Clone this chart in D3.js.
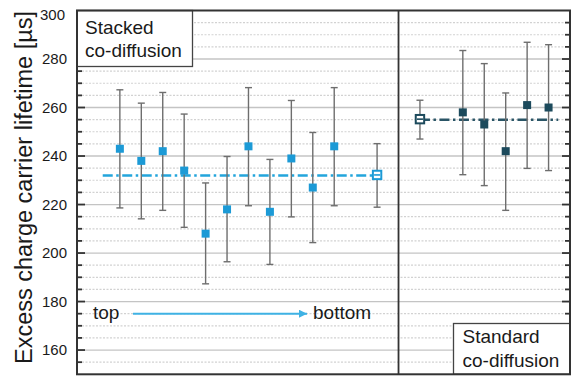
<!DOCTYPE html>
<html><head><meta charset="utf-8">
<script src="https://cdn.jsdelivr.net/npm/d3@7"></script>
<style>body{margin:0;background:#fff}svg{display:block}text{font-family:"Liberation Sans",Arial,sans-serif;fill:#1a1a1a}</style>
</head><body><svg id="c" width="573" height="377"></svg>
<script>
const yTicks = [160, 180, 200, 220, 240, 260, 280, 300];
const stackIdx = [1, 2, 3, 4, 5, 6, 7, 8, 9, 10, 11];
const stackVal = [243, 238, 242, 234, 208, 218, 244, 217, 239, 227, 244];
const stackHi  = [267.3, 261.8, 266.2, 257.3, 228.9, 239.8, 268.2, 238.6, 262.9, 249.7, 268.2];
const stackLo  = [218.6, 214.1, 217.6, 210.6, 187.3, 196.4, 219.5, 195.3, 214.9, 204.3, 219.5];
const stackAvg = {idx: 13, val: 232.2, hi: 245.1, lo: 218.9};
const stdIdx = [17, 18, 19, 20, 21];
const stdVal = [258, 253, 242, 261, 260];
const stdHi  = [283.5, 278.1, 266, 286.9, 285.9];
const stdLo  = [232.3, 227.8, 217.6, 234.9, 234];
const stdAvg = {idx: 15, val: 255.2, hi: 263, lo: 247};
const stackMean = 232, stdMean = 255;
const labels = {y: "Excess charge carrier lifetime [µs]", stacked: ["Stacked", "co-diffusion"], standard: ["Standard", "co-diffusion"], top: "top", bottom: "bottom"};

const L = 77, R = 570, T = 10.5, B = 374.3;
const x = d3.scaleLinear().domain([-1, 22]).range([L, R]);
const y = d3.scaleLinear().domain([150, 300]).range([B, T]);
const svg = d3.select("#c");
const cBlue = "#1c9ad6", cDark = "#1c4a5c", cGrid = "#c4c4c4", cAxis = "#333";

// minor grid
const minor = d3.range(155, 300, 5).filter(v => v % 20 !== 0);
svg.append("g").selectAll("line").data(minor).join("line")
  .attr("x1", L + 5).attr("x2", R - 5).attr("y1", d => y(d)).attr("y2", d => y(d))
  .attr("stroke", "#d2d2d2").attr("stroke-width", 1.2).attr("stroke-dasharray", "2,1.5");
// major grid
svg.append("g").selectAll("line").data(yTicks.filter(v => v < 300)).join("line")
  .attr("x1", L).attr("x2", R).attr("y1", d => y(d)).attr("y2", d => y(d))
  .attr("stroke", cGrid).attr("stroke-width", 1.3);

// left axis
const ax = svg.append("g").attr("transform", `translate(${L},0)`)
  .call(d3.axisLeft(y).tickValues(yTicks).tickSize(0).tickPadding(10).tickFormat(d3.format("d")));
ax.select(".domain").remove();
ax.selectAll("text").attr("font-size", 15).attr("fill", "#222").style("font-family", '"Liberation Sans",Arial,sans-serif');
ax.selectAll("text").filter(d => d === 300).attr("dy", "0.62em").attr("dx", "-2");
// tick marks inside (left and right)
const allTicks = d3.range(155, 300, 5);
[[L, 1], [R, -1]].forEach(([px, dir]) => {
  svg.append("g").selectAll("line").data(allTicks).join("line")
    .attr("x1", px).attr("x2", d => px + dir * (d % 20 === 0 ? 8 : 5))
    .attr("y1", d => y(d)).attr("y2", d => y(d))
    .attr("stroke", cAxis).attr("stroke-width", 1.8);
});

// legend boxes
function box(x0, y0, x1, y1, lines, tx, ty) {
  svg.append("rect").attr("x", x0).attr("y", y0).attr("width", x1 - x0).attr("height", y1 - y0)
    .attr("fill", "#fff").attr("stroke", "#444").attr("stroke-width", 1.3);
  lines.forEach((t, i) => svg.append("text").attr("x", tx).attr("y", ty + i * 23.5).attr("font-size", 19).text(t));
}
box(L, T, 192.5, 66.5, labels.stacked, 85, 33.5);
box(453.5, 323.5, R, B, labels.standard, 462.5, 343);

// frame & divider
svg.append("rect").attr("x", L).attr("y", T).attr("width", R - L).attr("height", B - T)
  .attr("fill", "none").attr("stroke", cAxis).attr("stroke-width", 2);
svg.append("line").attr("x1", x(14)).attr("x2", x(14)).attr("y1", T).attr("y2", B)
  .attr("stroke", cAxis).attr("stroke-width", 1.8);

// mean lines
svg.append("line").attr("x1", x(0.2)).attr("x2", x(13)).attr("y1", y(stackMean)).attr("y2", y(stackMean))
  .attr("stroke", "#23a5dc").attr("stroke-width", 2.5).attr("stroke-dasharray", "10,3.5,2.5,3.5");
svg.append("line").attr("x1", x(15)).attr("x2", x(21.45)).attr("y1", y(stdMean)).attr("y2", y(stdMean))
  .attr("stroke", "#2a5566").attr("stroke-width", 2.5).attr("stroke-dasharray", "10,3.5,2.5,3.5");

// error bars
function errs(idx, hi, lo) {
  const g = svg.append("g").attr("stroke", "#6e6e6e").attr("stroke-width", 1.4);
  idx.forEach((d, i) => {
    g.append("line").attr("x1", x(d)).attr("x2", x(d)).attr("y1", y(hi[i])).attr("y2", y(lo[i]));
    [hi[i], lo[i]].forEach(v => g.append("line").attr("x1", x(d) - 3.5).attr("x2", x(d) + 3.5).attr("y1", y(v)).attr("y2", y(v)));
  });
}
errs(stackIdx, stackHi, stackLo);
errs([stackAvg.idx], [stackAvg.hi], [stackAvg.lo]);
errs(stdIdx, stdHi, stdLo);
errs([stdAvg.idx], [stdAvg.hi], [stdAvg.lo]);

// markers
function filled(idx, val, col) {
  svg.append("g").selectAll("rect").data(idx).join("rect")
    .attr("x", d => x(d) - 4).attr("y", (d, i) => y(val[i]) - 4).attr("width", 8).attr("height", 8).attr("fill", col);
}
filled(stackIdx, stackVal, cBlue);
filled(stdIdx, stdVal, cDark);
function open(a, col) {
  const cx = x(a.idx), cy = y(a.val);
  svg.append("rect").attr("x", cx - 4.2).attr("y", cy - 4.2).attr("width", 8.4).attr("height", 8.4)
    .attr("fill", "#fff").attr("stroke", col).attr("stroke-width", 2);
  svg.append("line").attr("x1", cx - 3).attr("x2", cx + 3).attr("y1", cy).attr("y2", cy).attr("stroke", col).attr("stroke-width", 1.6);
}
open(stackAvg, cBlue);
open(stdAvg, cDark);

// top -> bottom annotation
svg.append("text").attr("x", 93).attr("y", 318.5).attr("font-size", 19).text(labels.top);
svg.append("text").attr("x", 313).attr("y", 318.5).attr("font-size", 19).text(labels.bottom);
svg.append("defs").append("marker").attr("id", "ah").attr("viewBox", "0 0 10 10").attr("refX", 10).attr("refY", 5)
  .attr("markerWidth", 5).attr("markerHeight", 4).attr("markerUnits", "strokeWidth").attr("orient", "auto")
  .append("path").attr("d", "M0,0L10,5L0,10Z").attr("fill", "#3fb2e4");
svg.append("line").attr("x1", 133).attr("x2", 307).attr("y1", 313.7).attr("y2", 313.7)
  .attr("stroke", "#3fb2e4").attr("stroke-width", 2).attr("marker-end", "url(#ah)");

// y title
svg.append("text").attr("transform", `translate(32,${(13 + 362) / 2}) rotate(-90)`)
  .attr("text-anchor", "middle").attr("font-size", 23.5).attr("fill", "#222").text(labels.y);
</script></body></html>
